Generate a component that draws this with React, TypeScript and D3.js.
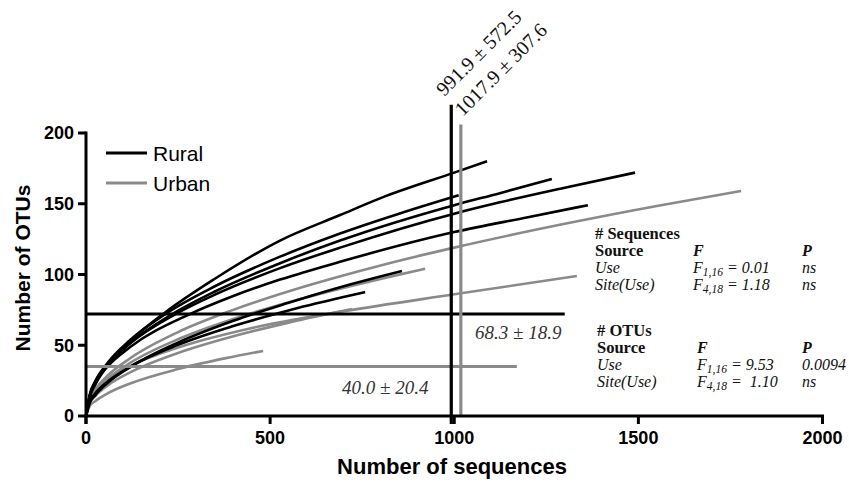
import React from 'react';
import * as d3 from 'd3';

const xTicks = [0, 500, 1000, 1500, 2000];
const yTicks = [0, 50, 100, 150, 200];

// Rural rarefaction curves [sequences, OTUs]
const rural1: [number, number][] = [[0, 0], [10, 13], [25, 22], [60, 36], [120, 53], [214, 73], [350, 97], [527, 124], [690, 142], [800, 154], [1000, 172], [1089, 180]];
const rural2: [number, number][] = [[0, 0], [10, 14], [25, 23.5], [60, 36.5], [120, 51.6], [234, 72], [350, 88], [527, 108], [690, 124], [1000, 149], [1124, 157.5], [1265, 167.5]];
const rural3: [number, number][] = [[0, 0], [10, 14], [25, 24.2], [60, 36.8], [120, 51.4], [243, 72], [350, 85.8], [527, 104.5], [690, 119], [1000, 143], [1124, 151], [1300, 161.3], [1491, 172]];
const rural4: [number, number][] = [[0, 0], [10, 14], [25, 23.6], [60, 35.4], [120, 48.7], [282, 72], [400, 84.8], [527, 96.4], [690, 109], [1000, 130], [1200, 140.5], [1363, 149]];
const rural5: [number, number][] = [[0, 0], [10, 15], [25, 24.5], [60, 38], [120, 53.7], [215, 72], [350, 91.7], [527, 112.6], [690, 129], [850, 143], [1012, 156]];
const rural6: [number, number][] = [[0, 0], [10, 9], [25, 14.6], [60, 23.7], [120, 34.6], [250, 51.9], [400, 67.3], [550, 80], [690, 91], [858, 102.5]];
const rural7: [number, number][] = [[0, 0], [10, 10], [25, 15.9], [60, 24.6], [120, 34.8], [250, 50.3], [400, 63.6], [550, 74.6], [690, 83.5], [758, 87.6]];

// Urban rarefaction curves
const urban1: [number, number][] = [[0, 0], [10, 11.5], [25, 18.5], [60, 28.8], [120, 40.8], [250, 59.3], [400, 75], [600, 92], [800, 106.4], [1000, 119], [1300, 135.8], [1550, 148.4], [1779, 159]];
const urban2: [number, number][] = [[0, 0], [10, 12], [25, 18], [60, 26.2], [120, 35.3], [250, 48.4], [445, 61.9], [700, 74], [1000, 86], [1333, 99]];
const urban3: [number, number][] = [[0, 0], [10, 11], [25, 17.1], [60, 26.5], [120, 37.5], [250, 54.2], [400, 68.5], [600, 83.9], [800, 96.9], [921, 104]];
const urban4: [number, number][] = [[0, 0], [10, 9], [25, 14.1], [60, 21.8], [120, 30.8], [250, 44.5], [400, 56.3], [550, 66], [722, 75.6]];
const urban5: [number, number][] = [[0, 0], [10, 7], [25, 10.5], [60, 16.2], [120, 23], [250, 33.2], [380, 40.9], [481, 46]];

const ruralCurves = [rural1, rural2, rural3, rural4, rural5, rural6, rural7];
const urbanCurves = [urban1, urban2, urban3, urban4, urban5];

// Reference lines
const ruralMeanSeq = 991.9;
const urbanMeanSeq = 1017.9;
const ruralSeqLineTop = 220;
const urbanSeqLineTop = 206;
const ruralMeanOtu = 72;
const urbanMeanOtu = 35;
const ruralOtuLineEnd = 1300;
const urbanOtuLineEnd = 1170;

const ruralSeqLabel = '991.9 ± 572.5';
const urbanSeqLabel = '1017.9 ± 307.6';
const ruralOtuLabel = '68.3 ± 18.9';
const urbanOtuLabel = '40.0 ± 20.4';

const legendLabels = ['Rural', 'Urban'];

const seqRows = [
  { src: 'Use', sub: '1,16', val: ' = 0.01', p: 'ns' },
  { src: 'Site(Use)', sub: '4,18', val: ' = 1.18', p: 'ns' },
];
const otuRows = [
  { src: 'Use', sub: '1,16', val: ' = 9.53', p: '0.0094' },
  { src: 'Site(Use)', sub: '4,18', val: ' =  1.10', p: 'ns' },
];

const BLACK = '#000';
const GRAY = '#8a8a8a';
const SANS = '"Liberation Sans", Arial, sans-serif';
const SERIF = '"Liberation Serif", "Times New Roman", serif';

function StatTable({ x, y, title, rows, fx, px }: any) {
  const lh = 17;
  return (
    <g fontFamily={SERIF} fontSize={16} fill="#111">
      <text x={x} y={y} fontWeight="bold" fontSize={16.5}>{title}</text>
      <text x={x} y={y + lh} fontWeight="bold" fontSize={16.5}>Source</text>
      <text x={fx} y={y + lh} fontWeight="bold" fontStyle="italic">F</text>
      <text x={px} y={y + lh} fontWeight="bold" fontStyle="italic">P</text>
      {rows.map((r: any, i: number) => (
        <g key={i} fontStyle="italic">
          <text x={x} y={y + lh * (i + 2)}>{r.src}</text>
          <text x={fx} y={y + lh * (i + 2)}>
            <tspan>F</tspan>
            <tspan dy={3} fontSize={11.5}>{r.sub}</tspan>
            <tspan dy={-3} style={{ whiteSpace: 'pre' }}>{r.val}</tspan>
          </text>
          <text x={px} y={y + lh * (i + 2)}>{r.p}</text>
        </g>
      ))}
    </g>
  );
}

export default function App() {
  const W = 849;
  const H = 483;
  const x = d3.scaleLinear().domain([0, 2000]).range([86, 822.5]);
  const y = d3.scaleLinear().domain([0, 200]).range([416, 133]);
  const line = d3
    .line<[number, number]>()
    .x((d) => x(d[0]))
    .y((d) => y(d[1]))
    .curve(d3.curveMonotoneX);

  return (
    <svg
      width={W}
      height={H}
      viewBox={`0 0 ${W} ${H}`}
      style={{ position: 'absolute', left: 0, top: 0, background: '#fff' }}
    >
      <rect x={0} y={0} width={W} height={H} fill="#fff" />

      {/* curves */}
      <g fill="none" strokeWidth={2.6} strokeLinecap="butt">
        {urbanCurves.map((c, i) => (
          <path key={'u' + i} d={line(c) || ''} stroke={GRAY} />
        ))}
        {ruralCurves.map((c, i) => (
          <path key={'r' + i} d={line(c) || ''} stroke={BLACK} />
        ))}
      </g>

      {/* mean OTU lines */}
      <line x1={x(0)} x2={x(ruralOtuLineEnd)} y1={y(ruralMeanOtu)} y2={y(ruralMeanOtu)} stroke={BLACK} strokeWidth={3} />
      <line x1={x(0)} x2={x(urbanOtuLineEnd)} y1={y(urbanMeanOtu)} y2={y(urbanMeanOtu)} stroke={GRAY} strokeWidth={3} />

      {/* mean sequence lines */}
      <line x1={x(urbanMeanSeq)} x2={x(urbanMeanSeq)} y1={y(urbanSeqLineTop)} y2={y(0)} stroke={GRAY} strokeWidth={3.2} />
      <line x1={x(ruralMeanSeq)} x2={x(ruralMeanSeq)} y1={y(ruralSeqLineTop)} y2={y(0) + 8} stroke={BLACK} strokeWidth={3.2} />

      {/* axes */}
      <g stroke={BLACK} strokeWidth={3}>
        <line x1={x(0)} x2={x(0)} y1={y(200) - 1.5} y2={y(0) + 8} />
        <line x1={x(0) - 1.5} x2={x(2000) + 1.5} y1={y(0)} y2={y(0)} />
        {yTicks.map((t) => (
          <line key={'yt' + t} x1={x(0) - 8} x2={x(0)} y1={y(t)} y2={y(t)} />
        ))}
        {xTicks.map((t) => (
          <line key={'xt' + t} x1={x(t)} x2={x(t)} y1={y(0)} y2={y(0) + 8} />
        ))}
      </g>
      <g fontFamily={SANS} fontWeight="bold" fontSize={18} fill={BLACK}>
        {yTicks.map((t) => (
          <text key={'yl' + t} x={x(0) - 12} y={y(t)} dy="0.36em" textAnchor="end">{t}</text>
        ))}
        {xTicks.map((t) => (
          <text key={'xl' + t} x={x(t)} y={444} textAnchor="middle">{t}</text>
        ))}
      </g>
      <text x={452} y={474} textAnchor="middle" fontFamily={SANS} fontWeight="bold" fontSize={22}>Number of sequences</text>
      <text transform="translate(30,268) rotate(-90)" textAnchor="middle" fontFamily={SANS} fontWeight="bold" fontSize={21}>Number of OTUs</text>

      {/* legend */}
      <g fontFamily={SANS} fontSize={21}>
        {legendLabels.map((l, i) => (
          <g key={l}>
            <line x1={106} x2={147} y1={153 + i * 30} y2={153 + i * 30} stroke={i === 0 ? BLACK : GRAY} strokeWidth={3} />
            <text x={153} y={161 + i * 30}>{l}</text>
          </g>
        ))}
      </g>

      {/* annotations */}
      <g fontFamily={SERIF} fontSize={20} fill="#111">
        <text transform={`translate(${x(ruralMeanSeq) - 7},97) rotate(-45)`}>{ruralSeqLabel}</text>
        <text transform={`translate(${x(urbanMeanSeq) + 2},117) rotate(-45)`}>{urbanSeqLabel}</text>
      </g>
      <g fontFamily={SERIF} fontSize={19} fontStyle="italic" fill="#333">
        <text x={475} y={339}>{ruralOtuLabel}</text>
        <text x={342} y={394}>{urbanOtuLabel}</text>
      </g>

      <StatTable x={595} y={239} title="# Sequences" rows={seqRows} fx={693} px={802} />
      <StatTable x={597} y={336} title="# OTUs" rows={otuRows} fx={697} px={802} />
    </svg>
  );
}
